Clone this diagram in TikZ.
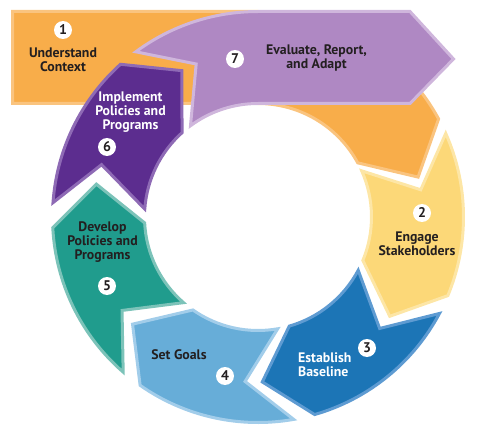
\documentclass[tikz,border=0pt]{standalone}
\usepackage{fontspec}
\setmainfont{PT Sans}
\usetikzlibrary{calc, math}

\definecolor{inkdark}{HTML}{231F20}
\definecolor{orangefill}{HTML}{F8AD4A}
\definecolor{orangeline}{HTML}{FAC47F}
\definecolor{yellowfill}{HTML}{FCD878}
\definecolor{yellowline}{HTML}{FDE6A6}
\definecolor{bluefill}{HTML}{1C75B6}
\definecolor{blueline}{HTML}{5E9BD2}
\definecolor{lbluefill}{HTML}{67ADD8}
\definecolor{lblueline}{HTML}{A2CDEA}
\definecolor{tealfill}{HTML}{209C8D}
\definecolor{tealline}{HTML}{7CC3B9}
\definecolor{purplefill}{HTML}{5C2D8F}
\definecolor{purpleline}{HTML}{8E6AB5}
\definecolor{lilacfill}{HTML}{AF88C3}
\definecolor{lilacline}{HTML}{CFB6DC}

\begin{document}
\begin{tikzpicture}[x=1pt, y=1pt,
	seg/.style={line width=3pt, line join=miter},
	numdot/.style={circle, fill=white, inner sep=0pt, minimum size=18pt, text=inkdark, font=\bfseries\fontsize{14}{14}\selectfont},
	steptext/.style={align=center, inner sep=0pt, text=inkdark, font=\bfseries\fontsize{13.8}{14}\selectfont}]

	% fix the window to the size of the original figure
	\useasboundingbox (0,0) rectangle (480,432);

	% radii of the ring: outer edge, arrow tips, inner edge. \tipang is how far a tip sticks out
	\tikzmath{\ringout = 205.5; \ringmid = 165; \ringin = 113.5; \tipang = 14.5;}

	\begin{scope}[shift={(258,215)}]
	% step 1 is a box on the top left that bends into the ring
	\filldraw[seg, fill=orangefill, draw=orangeline] (-245.5,\ringin) -- (-245.5,\ringout) -- (0,\ringout) arc[start angle=90, end angle=28.5, radius=\ringout pt] -- (14:\ringmid) -- (28.5:\ringin) arc[start angle=28.5, end angle=90, radius=\ringin pt] -- cycle;

	% steps 2 to 6 are bent arrows along the ring, tail angle / head angle / colour
	\foreach \ta/\ha/\col in {24/-22.5/yellow, -28/-74/blue, -80/-125/lblue, -131/-177/teal, 176/132/purple}
		\filldraw[seg, fill=\col fill, draw=\col line] (\ta:\ringout) arc[start angle=\ta, end angle=\ha, radius=\ringout pt] -- ({\ha-\tipang}:\ringmid) -- (\ha:\ringin) arc[start angle=\ha, end angle=\ta, radius=\ringin pt] -- ({\ta-\tipang}:\ringmid) -- cycle;

	% step 7 leaves the ring as a straight arrow to the right
	\filldraw[seg, fill=lilacfill, draw=lilacline] (126.5:\ringout) arc[start angle=126.5, end angle=90, radius=\ringout pt] -- (152,\ringout) -- (195.5,158) -- (152,\ringin) -- (0,\ringin) arc[start angle=90, end angle=126.5, radius=\ringin pt] -- (112:\ringmid) -- cycle;
	\end{scope}

	% numbers and texts of the steps
	\node[numdot] (n1) at (63,402) {1};
	\node[steptext] (t1) at (63,372.5) {Understand\\Context};
	\node[numdot] (n2) at (422,219) {2};
	\node[steptext] (t2) at (417,188.5) {Engage\\Stakeholders};
	\node[numdot] (n3) at (367,84) {3};
	\node[steptext, text=white, align=left, anchor=west] (t3) at (298,67) {Establish\\Baseline};
	\node[numdot] (n4) at (225,56) {4};
	\node[steptext] (t4) at (179,77) {Set Goals};
	\node[numdot] (n5) at (107,146) {5};
	\node[steptext] (t5) at (102.5,190) {Develop\\Policies and\\Programs};
	\node[numdot] (n6) at (107,285) {6};
	\node[steptext, text=white] (t6) at (130.5,320) {Implement\\Policies and\\Programs};
	\node[numdot] (n7) at (235,373) {7};
	\node[steptext] (t7) at (316.5,374.5) {Evaluate, Report,\\and Adapt};

\end{tikzpicture}
\end{document}
